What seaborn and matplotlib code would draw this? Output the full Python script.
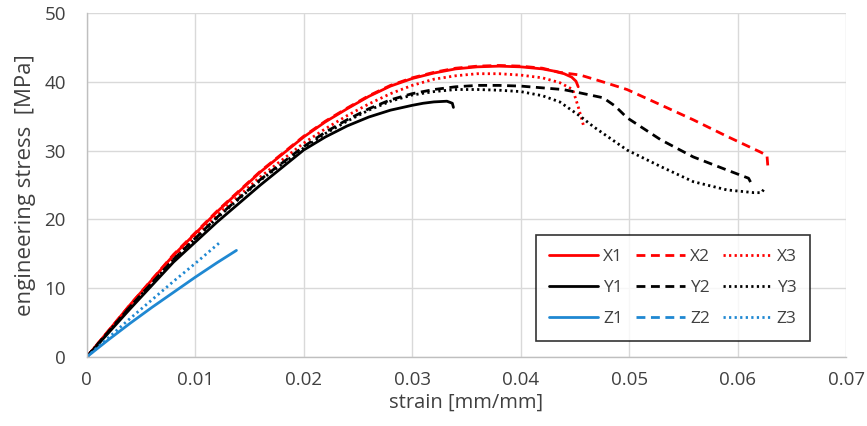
import matplotlib
matplotlib.use("Agg")
import matplotlib.pyplot as plt
import numpy as np
import pandas as pd
import seaborn as sns

# data
X1_strain = [0, 0.004, 0.008, 0.012, 0.016, 0.020, 0.022, 0.024, 0.026, 0.028, 0.030, 0.032, 0.034, 0.036, 0.038,
             0.040, 0.042, 0.043, 0.044, 0.0447, 0.0451, 0.0453]
X1_stress = [0, 7.6, 14.8, 21.1, 26.9, 32.0, 34.2, 36.1, 37.9, 39.4, 40.5, 41.3, 41.9, 42.2, 42.3,
             42.2, 41.9, 41.6, 41.2, 40.7, 40.1, 39.3]

X2_strain = [0, 0.004, 0.008, 0.012, 0.016, 0.020, 0.022, 0.024, 0.026, 0.028, 0.030, 0.032, 0.034, 0.036, 0.038,
             0.040, 0.042, 0.0436, 0.0455, 0.0476, 0.0498, 0.053, 0.0559, 0.059, 0.0621, 0.0627, 0.0628]
X2_stress = [0, 7.6, 14.9, 21.2, 27.0, 32.1, 34.3, 36.2, 38.0, 39.5, 40.6, 41.4, 42.0, 42.3, 42.4,
             42.3, 42.0, 41.4, 41.0, 40.0, 38.9, 36.6, 34.5, 32.1, 29.8, 29.3, 27.3]

X3_strain = [0, 0.004, 0.008, 0.012, 0.016, 0.020, 0.022, 0.024, 0.026, 0.028, 0.030, 0.032, 0.034, 0.036, 0.038,
             0.040, 0.042, 0.0436, 0.0448, 0.0453, 0.0458]
X3_stress = [0, 7.4, 14.4, 20.6, 26.2, 31.1, 33.2, 35.1, 36.8, 38.3, 39.5, 40.4, 40.9, 41.2, 41.2,
             41.0, 40.6, 39.9, 38.9, 36.4, 33.6]

Y1_strain = [0, 0.004, 0.008, 0.012, 0.016, 0.020, 0.022, 0.024, 0.026, 0.028, 0.030, 0.031, 0.032, 0.0332, 0.0337, 0.0338]
Y1_stress = [0, 7.0, 13.8, 19.6, 25.0, 30.1, 32.0, 33.6, 34.9, 35.9, 36.6, 36.9, 37.1, 37.2, 36.9, 36.3]

Y2_strain = [0, 0.004, 0.008, 0.012, 0.016, 0.020, 0.022, 0.024, 0.026, 0.028, 0.030, 0.032, 0.034, 0.036, 0.038,
             0.040, 0.0439, 0.0455, 0.0476, 0.0487, 0.0498, 0.0529, 0.0559, 0.059, 0.061, 0.0612]
Y2_stress = [0, 7.3, 14.2, 20.3, 25.8, 30.6, 32.7, 34.5, 36.1, 37.4, 38.3, 38.9, 39.3, 39.5, 39.5,
             39.4, 38.9, 38.4, 37.7, 36.5, 34.8, 31.6, 29.1, 27.2, 26.0, 25.4]

Y3_strain = [0, 0.004, 0.008, 0.012, 0.016, 0.020, 0.022, 0.024, 0.026, 0.028, 0.030, 0.032, 0.034, 0.036, 0.038,
             0.040, 0.042, 0.0436, 0.0455, 0.0467, 0.0498, 0.0529, 0.0559, 0.059, 0.0615, 0.0622, 0.0625]
Y3_stress = [0, 7.3, 14.1, 20.2, 25.7, 30.4, 32.5, 34.3, 35.9, 37.2, 38.1, 38.6, 38.9, 38.9, 38.8,
             38.6, 38.0, 37.1, 35.0, 33.5, 30.1, 27.7, 25.5, 24.3, 23.9, 23.9, 24.6]

Z1_strain = [0, 0.002, 0.004, 0.006, 0.008, 0.010, 0.012, 0.0138]
Z1_stress = [0, 2.5, 4.9, 7.2, 9.4, 11.6, 13.7, 15.5]

Z2_strain = []
Z2_stress = []

Z3_strain = [0, 0.002, 0.004, 0.006, 0.008, 0.010, 0.0123]
Z3_stress = [0, 2.8, 5.6, 8.3, 11.0, 13.6, 16.7]

series = [
    ("X1", X1_strain, X1_stress), ("X2", X2_strain, X2_stress), ("X3", X3_strain, X3_stress),
    ("Y1", Y1_strain, Y1_stress), ("Y2", Y2_strain, Y2_stress), ("Y3", Y3_strain, Y3_stress),
    ("Z1", Z1_strain, Z1_stress), ("Z2", Z2_strain, Z2_stress), ("Z3", Z3_strain, Z3_stress),
]
colors = {"X": "#ff0000", "Y": "#000000", "Z": "#1f88d2"}
styles = {"1": "-", "2": (0, (3.2, 2.0)), "3": (0, (0.8, 1.2))}

sns.set_theme(style="whitegrid")
plt.rcParams['font.family'] = ['Open Sans', 'DejaVu Sans']

fig, ax = plt.subplots(figsize=(8.67, 4.26), dpi=100)
fig.subplots_adjust(left=0.100, right=0.976, top=0.969, bottom=0.162)

handles = {}
for name, xs, ys in series:
    df = pd.DataFrame({"strain": xs, "stress": ys})
    ls = styles[name[1]]
    if len(df) > 0:
        sns.lineplot(data=df, x="strain", y="stress", ax=ax, color=colors[name[0]], sort=False,
                     estimator=None, linewidth=2.0, linestyle=ls, legend=False)
    h, = ax.plot([], [], color=colors[name[0]], linewidth=2.0, linestyle=ls)
    handles[name] = h

ax.set_xlim(0, 0.07)
ax.set_ylim(0, 50)
ax.set_xticks(np.arange(0, 0.0701, 0.01))
ax.set_yticks(np.arange(0, 51, 10))
ax.set_xticklabels(["0", "0.01", "0.02", "0.03", "0.04", "0.05", "0.06", "0.07"])
ax.tick_params(axis="both", length=0, labelsize=13.5, colors="#404040")
ax.tick_params(axis="x", pad=10)
ax.tick_params(axis="y", pad=15)
ax.grid(True, color="#d9d9d9", linewidth=1.0)
for s in ["top", "right"]:
    ax.spines[s].set_visible(False)
for s in ["left", "bottom"]:
    ax.spines[s].set_color("#bfbfbf")
    ax.spines[s].set_linewidth(1.0)

ax.set_xlabel("strain [mm/mm]", fontsize=14.5, color="#404040", labelpad=3)
ax.set_ylabel("engineering stress  [MPa]", fontsize=16, color="#404040", labelpad=6)

order = ["X1", "Y1", "Z1", "X2", "Y2", "Z2", "X3", "Y3", "Z3"]
leg = ax.legend([handles[k] for k in order], order, ncol=3, loc="lower left",
                bbox_to_anchor=(0.591, 0.047, 0.362, 0.306), mode="expand", borderaxespad=0,
                fontsize=12.5, frameon=True, fancybox=False, handlelength=2.8,
                handletextpad=0.3, columnspacing=1.0, labelspacing=0.85, borderpad=0.8)
leg.get_frame().set_edgecolor("#000000")
leg.get_frame().set_linewidth(1.2)
for t in leg.get_texts():
    t.set_color("#404040")

fig.savefig("out.png", dpi=100)
